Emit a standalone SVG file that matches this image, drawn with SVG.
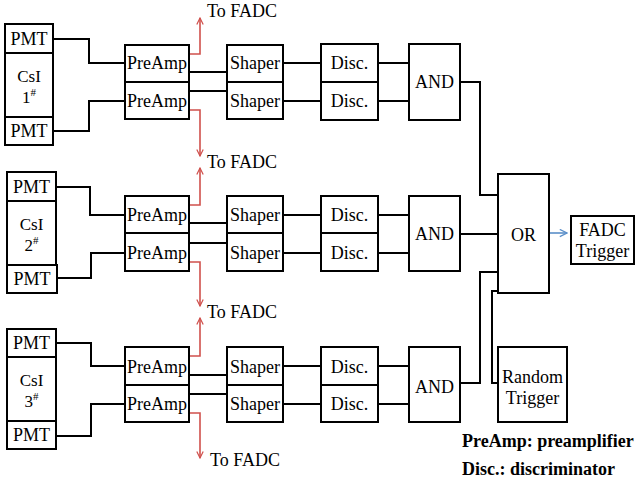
<svg xmlns="http://www.w3.org/2000/svg" width="637" height="485" viewBox="0 0 637 485">
<defs>
<marker id="ar" viewBox="0 0 10 10" refX="9" refY="5" markerWidth="8" markerHeight="8" markerUnits="userSpaceOnUse" orient="auto"><path d="M1,1 L9,5 L1,9" fill="none" stroke="#d0504c" stroke-width="1.5"/></marker>
<marker id="ab" viewBox="0 0 10 10" refX="9" refY="5" markerWidth="9" markerHeight="9" markerUnits="userSpaceOnUse" orient="auto"><path d="M1,1 L9,5 L1,9" fill="none" stroke="#5b8fc9" stroke-width="1.4"/></marker>
<style>
rect{fill:#fff;stroke:#000;stroke-width:2}
text{font-family:"Liberation Serif","Times New Roman",serif;font-size:18px;fill:#000}
.c{text-anchor:middle}
.k{font-size:17px}
.w{fill:none;stroke:#000;stroke-width:2}
.r{fill:none;stroke:#d0504c;stroke-width:1.6;marker-end:url(#ar)}
.b{fill:none;stroke:#5b8fc9;stroke-width:1.6;marker-end:url(#ab)}
.s{font-size:11px}
.bold{font-weight:bold}
</style>
</defs>

<g id="connectors">
<!-- group 1 -->
<path class="w" d="M53,39 H89 V63 H125"/>
<path class="w" d="M53,131 H89 V101 H125"/>
<path class="w" d="M189,72 H227"/>
<path class="w" d="M189,91 H227"/>
<path class="w" d="M283,63 H321"/>
<path class="w" d="M283,101 H321"/>
<path class="w" d="M378,63 H409"/>
<path class="w" d="M378,101 H409"/>
<path class="w" d="M460,82 H480 V195 H498"/>
<path class="r" d="M189,54 H200 V18"/>
<path class="r" d="M189,110 H200 V156"/>
<!-- group 2 -->
<path class="w" d="M56,187 H90 V215 H125"/>
<path class="w" d="M57,278 H91 V253 H125"/>
<path class="w" d="M189,223 H227"/>
<path class="w" d="M189,243 H227"/>
<path class="w" d="M283,215 H321"/>
<path class="w" d="M283,253 H321"/>
<path class="w" d="M378,215 H409"/>
<path class="w" d="M378,253 H409"/>
<path class="w" d="M460,234 H498"/>
<path class="r" d="M189,205 H200 V168"/>
<path class="r" d="M189,262 H200 V306"/>
<!-- group 3 -->
<path class="w" d="M56,343 H91 V366 H125"/>
<path class="w" d="M56,436 H91 V404 H125"/>
<path class="w" d="M189,375 H227"/>
<path class="w" d="M189,394 H227"/>
<path class="w" d="M283,366 H321"/>
<path class="w" d="M283,404 H321"/>
<path class="w" d="M378,366 H409"/>
<path class="w" d="M378,404 H409"/>
<path class="w" d="M460,383 H480 V272 H498"/>
<path class="r" d="M189,356 H200 V318"/>
<path class="r" d="M189,413 H200 V458"/>
<!-- OR / random / FADC trigger -->
<path class="w" d="M498,291 H492 V383 H498"/>
<path class="b" d="M549,233 H567"/>
</g>

<g id="labels">
<text x="207" y="17">To FADC</text>
<text x="207" y="168">To FADC</text>
<text x="207" y="318">To FADC</text>
<text x="210" y="466">To FADC</text>
</g>

<!-- Group 1 -->
<g id="pmt1a"><rect x="5" y="24" width="48" height="29"/><text class="c" x="29" y="45">PMT</text></g>
<g id="csi1"><rect x="5" y="53" width="48" height="64"/><text class="c k" x="29" y="82">CsI</text><text class="c k" x="29" y="103">1<tspan class="s" dy="-7">#</tspan></text></g>
<g id="pmt1b"><rect x="5" y="117" width="48" height="28"/><text class="c" x="29" y="137">PMT</text></g>
<g id="preamp1a"><rect x="125" y="45" width="64" height="37"/><text class="c" x="157" y="69">PreAmp</text></g>
<g id="preamp1b"><rect x="125" y="82" width="64" height="37"/><text class="c" x="157" y="107">PreAmp</text></g>
<g id="shaper1a"><rect x="227" y="45" width="56" height="37"/><text class="c" x="255" y="69">Shaper</text></g>
<g id="shaper1b"><rect x="227" y="82" width="56" height="37"/><text class="c" x="255" y="107">Shaper</text></g>
<g id="disc1a"><rect x="321" y="44" width="57" height="38"/><text class="c" x="349.5" y="69">Disc.</text></g>
<g id="disc1b"><rect x="321" y="82" width="57" height="38"/><text class="c" x="349.5" y="107">Disc.</text></g>
<g id="and1"><rect x="409" y="44" width="51" height="76"/><text class="c" x="434.5" y="88">AND</text></g>

<!-- Group 2 -->
<g id="pmt2a"><rect x="7" y="172" width="49" height="29"/><text class="c" x="31.5" y="193">PMT</text></g>
<g id="csi2"><rect x="7" y="201" width="49" height="64"/><text class="c k" x="31.5" y="230">CsI</text><text class="c k" x="31.5" y="251">2<tspan class="s" dy="-7">#</tspan></text></g>
<g id="pmt2b"><rect x="7" y="265" width="50" height="28"/><text class="c" x="32" y="285">PMT</text></g>
<g id="preamp2a"><rect x="125" y="196" width="64" height="37"/><text class="c" x="157" y="221">PreAmp</text></g>
<g id="preamp2b"><rect x="125" y="233" width="64" height="38"/><text class="c" x="157" y="259">PreAmp</text></g>
<g id="shaper2a"><rect x="227" y="196" width="56" height="37"/><text class="c" x="255" y="221">Shaper</text></g>
<g id="shaper2b"><rect x="227" y="233" width="56" height="38"/><text class="c" x="255" y="259">Shaper</text></g>
<g id="disc2a"><rect x="321" y="196" width="57" height="37"/><text class="c" x="349.5" y="221">Disc.</text></g>
<g id="disc2b"><rect x="321" y="233" width="57" height="38"/><text class="c" x="349.5" y="259">Disc.</text></g>
<g id="and2"><rect x="409" y="196" width="51" height="75"/><text class="c" x="434.5" y="240">AND</text></g>

<!-- Group 3 -->
<g id="pmt3a"><rect x="7" y="329" width="49" height="28"/><text class="c" x="31.5" y="349">PMT</text></g>
<g id="csi3"><rect x="7" y="357" width="49" height="64"/><text class="c k" x="31.5" y="386">CsI</text><text class="c k" x="31.5" y="407">3<tspan class="s" dy="-7">#</tspan></text></g>
<g id="pmt3b"><rect x="7" y="421" width="49" height="28"/><text class="c" x="31.5" y="441">PMT</text></g>
<g id="preamp3a"><rect x="125" y="347" width="64" height="38"/><text class="c" x="157" y="373">PreAmp</text></g>
<g id="preamp3b"><rect x="125" y="385" width="64" height="37"/><text class="c" x="157" y="410">PreAmp</text></g>
<g id="shaper3a"><rect x="227" y="347" width="56" height="38"/><text class="c" x="255" y="373">Shaper</text></g>
<g id="shaper3b"><rect x="227" y="385" width="56" height="37"/><text class="c" x="255" y="410">Shaper</text></g>
<g id="disc3a"><rect x="321" y="347" width="57" height="38"/><text class="c" x="349.5" y="373">Disc.</text></g>
<g id="disc3b"><rect x="321" y="385" width="57" height="37"/><text class="c" x="349.5" y="410">Disc.</text></g>
<g id="and3"><rect x="409" y="347" width="51" height="75"/><text class="c" x="434.5" y="393">AND</text></g>

<!-- Trigger logic -->
<g id="or"><rect x="498" y="174" width="51" height="119"/><text class="c" x="523.5" y="241">OR</text></g>
<g id="fadctrigger"><rect x="571" y="216" width="63" height="48"/><text class="c" x="602.5" y="236">FADC</text><text class="c" x="602.5" y="257">Trigger</text></g>
<g id="randomtrigger"><rect x="498" y="347" width="69" height="75"/><text class="c" x="532.5" y="383">Random</text><text class="c" x="532.5" y="404">Trigger</text></g>

<g id="legend">
<text class="bold" x="462" y="447">PreAmp: preamplifier</text>
<text class="bold" x="462" y="475">Disc.: discriminator</text>
</g>
</svg>
